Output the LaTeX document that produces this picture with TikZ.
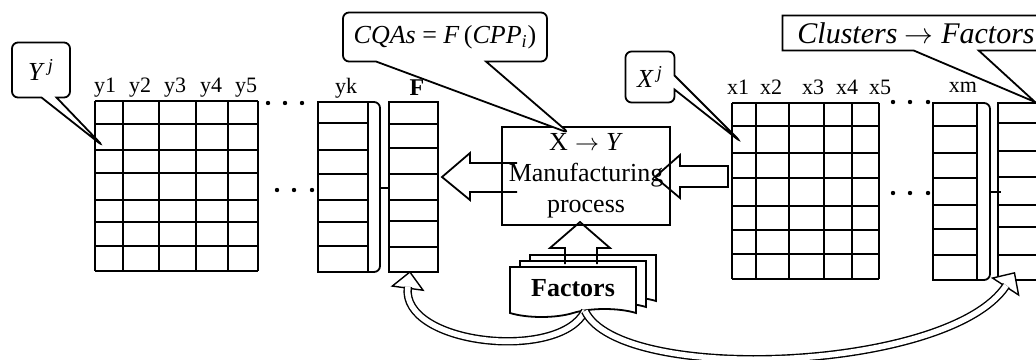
\documentclass[tikz,border=0pt]{standalone}
\usepackage{fontspec}
\setmainfont{Liberation Serif}
\usetikzlibrary{arrows.meta,positioning,calc,shapes.callouts,shapes.symbols,shadows}
\tikzstyle{cell}=[draw, line width=0.9pt]
\tikzstyle{colhead}=[font=\fontsize{11}{13}\selectfont, inner sep=1pt]
\tikzstyle{bubble}=[draw, fill=white, line width=0.9pt, rectangle callout,
	rounded corners=3pt, font=\fontsize{13}{15}\selectfont, inner sep=2pt]
\tikzstyle{blockarrow}=[draw, line width=0.9pt, line join=miter]
\tikzstyle{curvetip}=[line width=0.7pt, -{Triangle[fill=white, length=9pt, width=17pt]}]
\tikzstyle{curveshaft}=[double, double distance=2.8pt, line width=0.7pt, shorten >=8pt]
\tikzstyle{dot}=[fill, circle, inner sep=0pt, minimum size=2.2pt]
\newcommand{\clusterarrow}{\ensuremath{\rightarrow}}
\newcommand{\hollowcurve}[1]{\draw[curvetip] #1; \draw[curveshaft] #1;}

\begin{document}
\begin{tikzpicture}[x=0.5pt, y=-0.5pt]
	\useasboundingbox (0,0) rectangle (1036,359);
	\clip (0,0) rectangle (1036,359);
	% Y grid
	\foreach \cx in {95,123,159,196,228,258}
		\draw[cell] (\cx,101) -- (\cx,271);
	\foreach \ry in {101,124,150,173,200,222,246,271}
		\draw[cell] (95,\ry) -- (258,\ry);
	\foreach \lab/\cx in {y1/105,y2/140,y3/175,y4/211,y5/246}
		\node[colhead] (\lab) at (\cx,88) {\lab};
	\foreach \cx in {268,285,302}
		\node[dot] (ydt\cx) at (\cx,103) {};
	\foreach \cx in {277,294,312}
		\node[dot] (ydm\cx) at (\cx,190) {};
	% yk column and F
	\draw[cell] (318,102) rectangle (368,272);
	\foreach \ry in {123,150,174,200,222,246}
		\draw[cell] (318,\ry) -- (368,\ry);
	\node[colhead] (yk) at (346,88) {yk};
	\draw[cell, rounded corners=3] (368,102) -- (380,102) -- (380,272) -- (368,272);
	\draw[cell] (380,188) -- (390,188);
	\draw[cell] (389,102) rectangle (438,272);
	\foreach \ry in {124,148,174,200,221,247}
		\draw[cell] (389,\ry) -- (438,\ry);
	\node[colhead, font=\fontsize{12}{14}\selectfont\bfseries] (F) at (417,88) {F};
	% X grid
	\foreach \cx in {732,756,789,824,852,879}
		\draw[cell] (\cx,103) -- (\cx,279);
	\foreach \ry in {103,126,153,178,206,230,254,279}
		\draw[cell] (732,\ry) -- (879,\ry);
	\foreach \lab/\cx in {x1/738,x2/771,x3/813,x4/847,x5/880}
		\node[colhead] (\lab) at (\cx,87) {\lab};
	\foreach \cx in {893,910,928}
		\node[dot] (xdt\cx) at (\cx,102) {};
	\foreach \cx in {893,910,928}
		\node[dot] (xdm\cx) at (\cx,193) {};
	% xm column and clusters
	\draw[cell] (933,103) rectangle (977,280);
	\foreach \ry in {126,153,178,205,229,255}
		\draw[cell] (933,\ry) -- (977,\ry);
	\node[colhead] (xm) at (963,87) {xm};
	\draw[cell, rounded corners=3] (977,103) -- (990,103) -- (990,280) -- (977,280);
	\draw[cell] (990,192) -- (1001,192);
	\draw[cell] (998,103) rectangle (1060,280);
	\foreach \ry in {123,151,177,205,227,255}
		\draw[cell] (998,\ry) -- (1060,\ry);
	% process
	\node[draw, line width=0.9pt, minimum width=69pt, minimum height=46pt, align=center,
		font=\fontsize{13}{15.5}\selectfont] (mp) at (586,176)
		{X\;$\rightarrow$\;\textit{Y}\\Manufacturing\\process};
	\node[draw, fill=white, line width=0.9pt, tape, tape bend top=none, tape bend height=4pt,
		double copy shadow={shadow xshift=5pt, shadow yshift=3pt},
		minimum width=63pt, minimum height=25pt,
		font=\fontsize{13}{15}\selectfont\bfseries] (fac) at (573,288) {Factors};
	\draw[blockarrow] (517,163) -- (470,163) -- (470,153) -- (442,177) -- (470,200)
		-- (470,192) -- (517,192);
	\draw[blockarrow] (728,166) -- (680,166) -- (680,155) -- (655,177) -- (680,198)
		-- (680,187) -- (728,187) -- cycle;
	\draw[blockarrow] (565,264) -- (565,248) -- (550,248) -- (580,222) -- (610,248)
		-- (597,248) -- (597,264);
	% curved arrows from Factors
	\coordinate (facb) at (585,311);
	\coordinate (ftip) at (410,271);
	\coordinate (ctip) at (1015,272);
	\hollowcurve{(facb) .. controls (560,362) and (400,345) .. (ftip)}
	\hollowcurve{(facb) .. controls (620,385) and (950,372) .. (ctip)}
	% callouts
	\node[bubble, minimum width=29pt, minimum height=27.5pt, callout pointer width=7.5pt,
		callout absolute pointer={(103,146)}] (yj) at (41,70) {\textit{Y}\textsuperscript{\,\textit{j}}};
	\node[bubble, minimum width=102pt, minimum height=24.5pt, callout pointer width=55pt,
		callout absolute pointer={(569,133)}] (cqa) at (445,37)
		{\textit{CQAs} = \textit{F}\,(\textit{CPP}\textsubscript{\textit{i}})};
	\node[bubble, minimum width=24.5pt, minimum height=25.5pt, callout pointer width=7pt,
		callout absolute pointer={(741,142)}] (xj) at (650,77) {\textit{X}\textsuperscript{\,\textit{j}}};
	\node[bubble, rounded corners=0pt, minimum width=133.5pt, minimum height=17.5pt,
		callout pointer width=32.5pt, font=\fontsize{15}{17}\selectfont\itshape,
		callout absolute pointer={(1035,102)}] (clu) at (916,33)
		{Clusters \clusterarrow\ Factors};
\end{tikzpicture}
\end{document}
